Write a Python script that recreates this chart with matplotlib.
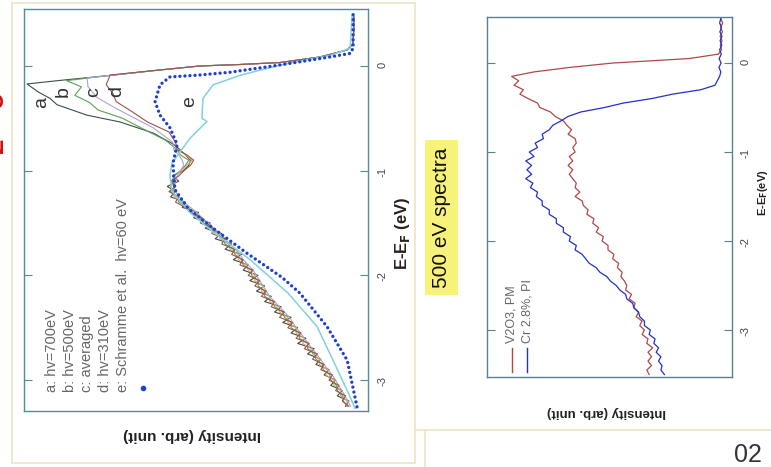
import numpy as np
import matplotlib
matplotlib.use("Agg")
import matplotlib.pyplot as plt
from matplotlib.patches import Rectangle
from matplotlib.lines import Line2D

plt.rcParams['font.family'] = ['Liberation Sans', 'DejaVu Sans']

W, H = 771, 467

# ---------------- left panel: spectra a-e (E-E_F in eV, intensity arb. 0-100)
edge_E = [0.47, 0.34, 0.21, 0.153, 0.086, 0.033, 0.014, 0.0, -0.038, -0.09, -0.138, -0.172]
edge_I = [1.0, 1.0, 1.3, 3.0, 11.2, 23.3, 35.5, 47.6, 59.7, 74.8, 90, 100]

a_up_E = [-0.25, -0.31, -0.37, -0.47, -0.535, -0.64, -0.75]
a_up_I = [96.5, 93, 90.9, 81.8, 71.8, 61.8, 55.5]
b_up_E = [-0.14, -0.2, -0.28, -0.35, -0.42, -0.50, -0.59, -0.71]
b_up_I = [88, 83.5, 85.5, 81, 78.5, 71, 65.5, 58]
c_up_E = [-0.115, -0.2, -0.3, -0.39, -0.49, -0.59, -0.73]
c_up_I = [81.8, 81.5, 78.8, 73.9, 67.9, 61.8, 55.8]
d_up_E = [-0.086, -0.18, -0.26, -0.34, -0.44, -0.535, -0.63, -0.73]
d_up_I = [74.8, 76, 74, 73, 68, 63.5, 57, 55]

low_E = np.round(np.arange(-0.80, -3.26, -0.05), 2)
a_low = [53.6, 52, 50.5, 51, 52.5, 56, 54, 57.5, 55, 56.5,
         52, 53, 48, 49.5, 44.5, 46, 41, 43, 38, 40,
         35, 37.5, 33, 34.5, 30, 32.5, 28, 30.5, 26, 28,
         23, 25, 20, 22.5, 18, 20, 15.5, 18, 13, 15,
         11, 12.5, 8.5, 10, 6.5, 8, 4.5, 6, 2.5, 3.5]
b_low = [54.5, 53.5, 51, 52, 53.5, 55.5, 56, 55, 56.5, 54.5,
         54, 51, 50, 47.5, 46.5, 44, 43, 40.5, 40, 37.5,
         37, 35, 34.5, 32, 32, 30, 30, 28, 28, 25.5,
         25, 22.5, 22, 20, 20, 17.5, 17.5, 15, 15, 12.8,
         12.5, 10.5, 10.3, 8.2, 8, 6.2, 6, 4.3, 4.2, 2.8]
c_low = [55.5, 54, 53, 52.5, 53.5, 54.5, 55, 55.5, 55, 54,
         52.5, 50.5, 48.5, 47, 45, 43.5, 41.5, 40, 38.5, 37,
         35.5, 34.5, 33, 31.5, 30.5, 29.5, 28.5, 27.5, 26.5, 25,
         23.5, 22, 20.5, 19.5, 18.4, 17.2, 16, 14.8, 13.6, 12.3,
         11.1, 10, 8.8, 7.6, 6.5, 5.6, 4.6, 3.7, 2.8, 2]
d_low = [54.5, 51.5, 49.5, 50.5, 52.5, 54, 56.5, 55, 57, 54,
         55, 52, 50.5, 47, 47.5, 43.5, 44, 40, 41, 37,
         38, 34.5, 35.5, 31.5, 33, 29.5, 31, 27.5, 29, 25,
         26, 22, 23.5, 19.5, 21, 17, 18.5, 14.5, 16, 12,
         13.5, 10, 11, 7.5, 8.5, 5.5, 6.5, 3.5, 4.5, 2.5]
o_low = [54, 52, 50, 51.5, 53, 55.5, 55, 56.5, 55.5, 55.5,
         53, 52, 49, 48.5, 45.5, 45, 42, 41.5, 39, 38.5,
         36, 36, 33.5, 33, 31, 31, 28.5, 29, 26.5, 26.5,
         24, 23.5, 21, 21, 18.5, 18.5, 16, 16.5, 14, 13.5,
         11.5, 11.5, 9, 9.5, 7, 7, 5, 5, 3, 3.2]

cyan_E = [0.49, 0.17, 0.10, 0.03, -0.04, -0.09, -0.18, -0.31, -0.50, -0.53, -0.69, -0.82,
          -0.93, -1.05, -1.2, -1.4, -1.6, -1.85, -2.17, -2.49, -2.81, -3.12, -3.27]
cyan_I = [1.5, 2.1, 8.2, 20.3, 29.4, 35.5, 43.6, 46.7, 47.0, 45.5, 50.6, 53.6,
          56.1, 56.7, 56, 50.6, 43, 32.4, 20.9, 12.1, 7.3, 2.7, 0.6]

e_E = [0.49, 0.17, 0.12, 0.086, 0.01, -0.06, -0.086, -0.105, -0.18, -0.34, -0.47, -0.59,
       -0.75, -0.93, -1.18, -1.36, -1.55, -1.79, -2.02, -2.17, -2.49, -2.81, -3.26]
e_I = [1.2, 1.2, 2.1, 8.2, 23.3, 38.5, 47.6, 56.7, 59.7, 61.2, 59.7, 56.7,
       54.5, 55.8, 55.2, 51.2, 43.6, 33.3, 22.7, 17.3, 9.1, 3.0, 0.0]

left_legend = ['a: hv=700eV', 'b: hv=500eV', 'c: averaged', 'd: hv=310eV',
               'e: Schramme et al.  hv=60 eV']
curve_letters = ['a', 'b', 'c', 'd', 'e']

# ---------------- right panel: 500 eV spectra
r_E = np.round(np.arange(0.50, -3.51, -0.05), 2)
v2o3_I = [0.5, -0.3, 0.6, -0.2, 0.8, 0.0, 0.7, 0.2, 1.5, 14,
          46.4, 65, 80, 89.5, 86.5, 88.5, 84.5, 86, 82.5, 78.5,
          77.5, 73, 71, 67.5, 66, 64, 65.5, 62.5, 62, 63.5,
          62.5, 65, 63.5, 65.5, 63.5, 65, 63.5, 62, 62.5, 60.5,
          62.5, 59.5, 59, 57, 57.5, 54.5, 55, 52.5, 53.5, 50.5,
          51, 48.5, 48.5, 46, 46.5, 44, 44.5, 42.5, 43, 41.5,
          40.5, 41, 38.5, 39.5, 37, 37.5, 35.5, 36.5, 34, 35,
          33, 34, 31.5, 32, 29.5, 31.5, 30, 31.5, 30, 32,
          31]
cr_I = [0.5, 1.0, 0.2, 0.9, 0.0, 0.8, 0.1, 1.0, 0.3, 1.2,
        0.4, 1.3, 0.5, 1.0, 2.0, 3.0, 9, 21, 30, 42,
        50, 60, 65.5, 68.5, 72, 73.5, 76.5, 76, 79.5, 78.5,
        82, 80, 83.5, 81, 83, 81, 83.5, 80.5, 81.5, 78.5,
        79, 76.5, 76.5, 73.5, 73.5, 70.5, 70.5, 67.5, 67.5, 64.5,
        65, 62, 62.5, 59.5, 58, 56.5, 53.5, 52, 49, 47.5,
        45, 43.5, 41, 40.5, 38, 37.5, 35.5, 35, 33, 33,
        30.5, 31, 28.5, 29, 27, 28, 26, 27, 25.5, 26,
        24.5]
right_legend = ['V2O3, PM', 'Cr 2.8%, PI']

energy_ticks = [-3, -2, -1, 0]


def fx(x):
    return x / W


def fy(y):
    return 1 - y / H


def box(x0, y0, x1, y1):
    return [fx(x0), fy(y1), (x1 - x0) / W, (y1 - y0) / H]


fig = plt.figure(figsize=(W / 100, H / 100), dpi=100)

# slide frames
frame_col = '#ece4c4'
fig.add_artist(Rectangle((fx(12), fy(463)), (415 - 12) / W, (463 - 3) / H, fill=False,
                         ec=frame_col, lw=1.2, transform=fig.transFigure))
fig.add_artist(Line2D([fx(415), fx(771)], [fy(430), fy(430)], color=frame_col, lw=1.2,
                      transform=fig.transFigure))
fig.add_artist(Line2D([fx(425), fx(425)], [fy(430), fy(467)], color=frame_col, lw=1.2,
                      transform=fig.transFigure))

# left axes
axL = fig.add_axes(box(24, 9, 368, 411))
axL.plot(edge_I + a_up_I + a_low, edge_E + a_up_E + list(low_E), color='#3d4f45', lw=0.8)
axL.plot(o_low, low_E, color='#e3a25a', lw=0.8)
axL.plot(edge_I[:10] + b_up_I + b_low, edge_E[:10] + b_up_E + list(low_E), color='#5aa05a', lw=0.8)
axL.plot(edge_I[:10] + c_up_I + c_low, edge_E[:10] + c_up_E + list(low_E), color='#aaa4d8', lw=0.8)
axL.plot(edge_I[:9] + d_up_I + d_low, edge_E[:9] + d_up_E + list(low_E), color='#a0524a', lw=0.8)
axL.plot(cyan_I, cyan_E, color='#80d2da', lw=1.1)
axL.plot(e_I, e_E, color='#1f3fd0', lw=2.4, linestyle=(0, (0.01, 1.5)),
         dash_capstyle='round')
axL.set_xlim(100.9, -3.3)
axL.set_ylim(-3.295, 0.544)

# right axes
axR = fig.add_axes(box(487, 17, 732, 377))
axR.plot(v2o3_I, r_E, color='#b04848', lw=0.9)
axR.plot(cr_I, r_E, color='#2232c4', lw=0.9)
axR.set_xlim(100, -4.26)
axR.set_ylim(-3.528, 0.517)

for ax, sc, pad in [(axL, '#4d9090', 7), (axR, '#5a8090', 6)]:
    for s in ax.spines.values():
        s.set_color(sc)
        s.set_linewidth(1.0)
    ax.set_xticks([])
    ax.set_yticks(energy_ticks)
    ax.set_yticklabels([str(t) for t in energy_ticks])
    ax.tick_params(axis='y', direction='in', left=True, right=True, labelleft=False,
                   labelright=True, length=6, color=sc, labelsize=8, labelcolor='#444',
                   pad=pad, labelrotation=90)

# left texts
for i, lab in enumerate(left_legend):
    fig.text(fx(52 + 17.7 * i), fy(392), lab, rotation=90, rotation_mode='anchor',
             ha='left', va='center', fontsize=10.5, color='#666')
fig.add_artist(Line2D([fx(143)], [fy(388)], marker='o', ms=3, color='#1f3fd0',
                      transform=fig.transFigure))
for lab, (x, y) in zip(curve_letters, [(42, 103), (63, 92), (94, 92), (117, 92), (190, 102)]):
    fig.text(fx(x), fy(y), lab, rotation=90, ha='center', va='center', fontsize=14,
             color='#333')
fig.text(fx(192), fy(435), 'Intensity (arb. unit)', rotation=180, ha='center', va='center',
         fontsize=11, fontweight='bold', color='#222')
fig.text(fx(402), fy(233), 'E-E$_\\mathbf{F}$ (eV)', rotation=90, ha='center', va='center',
         fontsize=12, fontweight='bold', color='#222')

# right texts
for lab, x, c in zip(right_legend, [512, 527], ['#b04848', '#2232c4']):
    fig.add_artist(Line2D([fx(x), fx(x)], [fy(348), fy(372)], color=c, lw=1,
                          transform=fig.transFigure))
    fig.text(fx(x), fy(343), lab, rotation=90, rotation_mode='anchor', ha='left',
             va='center', fontsize=9, color='#666')
fig.text(fx(607), fy(412), 'Intensity (arb. unit)', rotation=180, ha='center', va='center',
         fontsize=9.5, fontweight='bold', color='#222')
fig.text(fx(763), fy(193), 'E-E$_\\mathbf{F}$(eV)', rotation=90, ha='center', va='center',
         fontsize=8, fontweight='bold', color='#222')

fig.add_artist(Rectangle((fx(425), fy(295)), 33 / W, 155 / H, fc='#f7f27a', ec='none',
                         transform=fig.transFigure))
fig.text(fx(442), fy(218), '500 eV spectra', rotation=90, ha='center', va='center',
         fontsize=15, color='#111')

fig.text(fx(748), fy(455), '02', ha='center', va='center', fontsize=18, color='#333')
# red fragments of slide title cut by the left edge
fig.text(fx(-4), fy(99), 'o', rotation=90, ha='center', va='center', fontsize=20,
         fontweight='bold', color='#d01010')
fig.text(fx(-4), fy(145), '2', rotation=90, ha='center', va='center', fontsize=20,
         fontweight='bold', color='#d01010')

fig.savefig('out.png', dpi=100)
